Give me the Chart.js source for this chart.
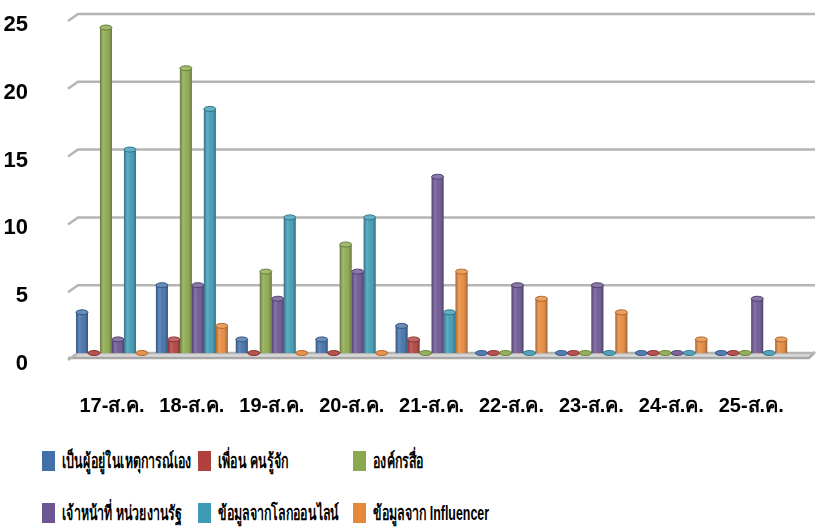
<!DOCTYPE html>
<html>
<head>
<meta charset="utf-8">
<script src="https://cdn.jsdelivr.net/npm/chart.js@4/dist/chart.umd.min.js"></script>
<style>
    html, body { margin: 0; padding: 0; background: #fff; }
    #wrap { position: relative; width: 817px; height: 527px; }
    #chart { position: absolute; left: 0; top: 0; }
    #legend {
        position: absolute; left: 42px; top: 447px;
        display: grid; grid-template-columns: 156px 155px 200px; row-gap: 24px;
        font-family: "Liberation Sans", sans-serif;
        font-weight: bold; font-size: 20px; color: #000;
    }
    .item { display: flex; align-items: center; height: 28px; white-space: nowrap; }
    .sw { width: 13px; height: 20px; margin-right: 7px; flex: none; }
    .txt { display: inline-block; transform: scaleX(0.62); transform-origin: left center; }
</style>
</head>
<body>
<div id="wrap">
    <canvas id="chart" width="817" height="430"></canvas>
    <div id="legend"></div>
</div>
<script>
    const days = ["17-ส.ค.", "18-ส.ค.", "19-ส.ค.", "20-ส.ค.", "21-ส.ค.", "22-ส.ค.", "23-ส.ค.", "24-ส.ค.", "25-ส.ค."];
    const yTicks = [0, 5, 10, 15, 20, 25];

    const seriesNames = [
        "เป็นผู้อยู่ในเหตุการณ์เอง",
        "เพื่อน คนรู้จัก",
        "องค์กรสื่อ",
        "เจ้าหน้าที่ หน่วยงานรัฐ",
        "ข้อมูลจากโลกออนไลน์",
        "ข้อมูลจาก Influencer"
    ];
    const witness    = [3, 5, 1, 1, 2, 0, 0, 0, 0];
    const friends    = [0, 1, 0, 0, 1, 0, 0, 0, 0];
    const media      = [24, 21, 6, 8, 0, 0, 0, 0, 0];
    const government = [1, 5, 4, 6, 13, 5, 5, 0, 4];
    const online     = [15, 18, 10, 10, 3, 0, 0, 0, 0];
    const influencer = [0, 2, 0, 0, 6, 4, 3, 1, 1];

    const colors = ["#4270a9", "#b0403e", "#8aa84c", "#6b5592", "#3d9bb5", "#e5883a"];
    const values = [witness, friends, media, government, online, influencer];

    function shade(hex, amt) {
        const n = parseInt(hex.slice(1), 16);
        let r = (n >> 16) & 255, g = (n >> 8) & 255, b = n & 255;
        const f = (c) => Math.max(0, Math.min(255, Math.round(amt > 0 ? c + (255 - c) * amt : c * (1 + amt))));
        return "rgb(" + f(r) + "," + f(g) + "," + f(b) + ")";
    }

    // back wall ticks, grid lines and floor
    const wallPlugin = {
        id: "wall",
        beforeDatasetsDraw(chart) {
            const ctx = chart.ctx, y = chart.scales.y, area = chart.chartArea;
            const x0 = area.left + 6, x1 = chart.width - 2;
            ctx.save();
            yTicks.forEach((v) => {
                const py = y.getPixelForValue(v);
                ctx.lineWidth = 2.5;
                if (v === 0) {
                    ctx.fillStyle = "#d9d9d9";
                    ctx.beginPath();
                    ctx.moveTo(x0, py - 1);
                    ctx.lineTo(x1, py - 1);
                    ctx.lineTo(x1 - 6, py + 5);
                    ctx.lineTo(x0 - 10, py + 5);
                    ctx.closePath();
                    ctx.fill();
                    ctx.strokeStyle = "#a8a8a8";
                    ctx.beginPath();
                    ctx.moveTo(x0 - 10, py + 5);
                    ctx.lineTo(x1 - 6, py + 5);
                    ctx.lineTo(x1, py - 1);
                    ctx.stroke();
                }
                ctx.strokeStyle = "#b5b5b5";
                ctx.beginPath();
                ctx.moveTo(x0 - 10, py + 7);
                ctx.lineTo(x0, py);
                ctx.lineTo(x1, py);
                ctx.stroke();
            });
            ctx.restore();
        },
        afterDatasetsDraw(chart) {
            const ctx = chart.ctx;
            ctx.save();
            chart.data.datasets.forEach((ds, di) => {
                const meta = chart.getDatasetMeta(di);
                const base = colors[di];
                meta.data.forEach((bar, i) => {
                    const w = bar.width, left = bar.x - w / 2;
                    const top = bar.y, bottom = bar.base;
                    if (ds.data[i] > 0) {
                        const g = ctx.createLinearGradient(left, 0, left + w, 0);
                        g.addColorStop(0, "rgba(0,0,0,0.28)");
                        g.addColorStop(0.3, "rgba(255,255,255,0.18)");
                        g.addColorStop(0.55, "rgba(255,255,255,0.05)");
                        g.addColorStop(1, "rgba(0,0,0,0.32)");
                        ctx.fillStyle = g;
                        ctx.fillRect(left, top, w, bottom - top);
                    }
                    ctx.fillStyle = ds.data[i] > 0 ? shade(base, 0.2) : shade(base, 0.1);
                    ctx.strokeStyle = shade(base, -0.25);
                    ctx.lineWidth = 1;
                    ctx.beginPath();
                    ctx.ellipse(bar.x, top, w / 2, 2.5, 0, 0, Math.PI * 2);
                    ctx.fill();
                    ctx.stroke();
                });
            });
            ctx.restore();
        }
    };

    const chart = new Chart(document.getElementById("chart"), {
        type: "bar",
        data: {
            labels: days,
            datasets: seriesNames.map((name, i) => ({
                label: name,
                data: values[i],
                backgroundColor: colors[i],
                borderWidth: 0,
                categoryPercentage: 0.9,
                barPercentage: 1.0
            }))
        },
        options: {
            responsive: false,
            animation: false,
            layout: { padding: { top: 14, right: 5, bottom: 0, left: 0 } },
            plugins: {
                legend: { display: false },
                tooltip: { enabled: false }
            },
            scales: {
                x: {
                    afterFit(scale) { scale.height = 77; },
                    grid: { display: false },
                    border: { display: false },
                    ticks: {
                        color: "#000",
                        padding: 33,
                        maxRotation: 0,
                        minRotation: 0,
                        autoSkip: false,
                        font: { family: "Liberation Sans, sans-serif", size: 20, weight: "bold" }
                    }
                },
                y: {
                    min: 0,
                    max: 25,
                    afterBuildTicks(scale) {
                        scale.ticks = yTicks.map((v) => ({ value: v }));
                    },
                    afterFit(scale) {
                        scale.width = 72;
                        // the wide label gap should not push the plot area down
                        scale.paddingTop = 0;
                        scale.paddingBottom = 0;
                    },
                    grid: { display: false },
                    border: { display: false },
                    ticks: {
                        color: "#000",
                        padding: 36,
                        labelOffset: 11,
                        font: { family: "Liberation Sans, sans-serif", size: 22, weight: "bold" }
                    }
                }
            }
        },
        plugins: [wallPlugin]
    });

    const legend = document.getElementById("legend");
    chart.data.datasets.forEach((ds) => {
        const item = document.createElement("div");
        item.className = "item";
        const sw = document.createElement("span");
        sw.className = "sw";
        sw.style.background = ds.backgroundColor;
        const txt = document.createElement("span");
        txt.className = "txt";
        txt.textContent = ds.label;
        item.appendChild(sw);
        item.appendChild(txt);
        legend.appendChild(item);
    });
</script>
</body>
</html>
